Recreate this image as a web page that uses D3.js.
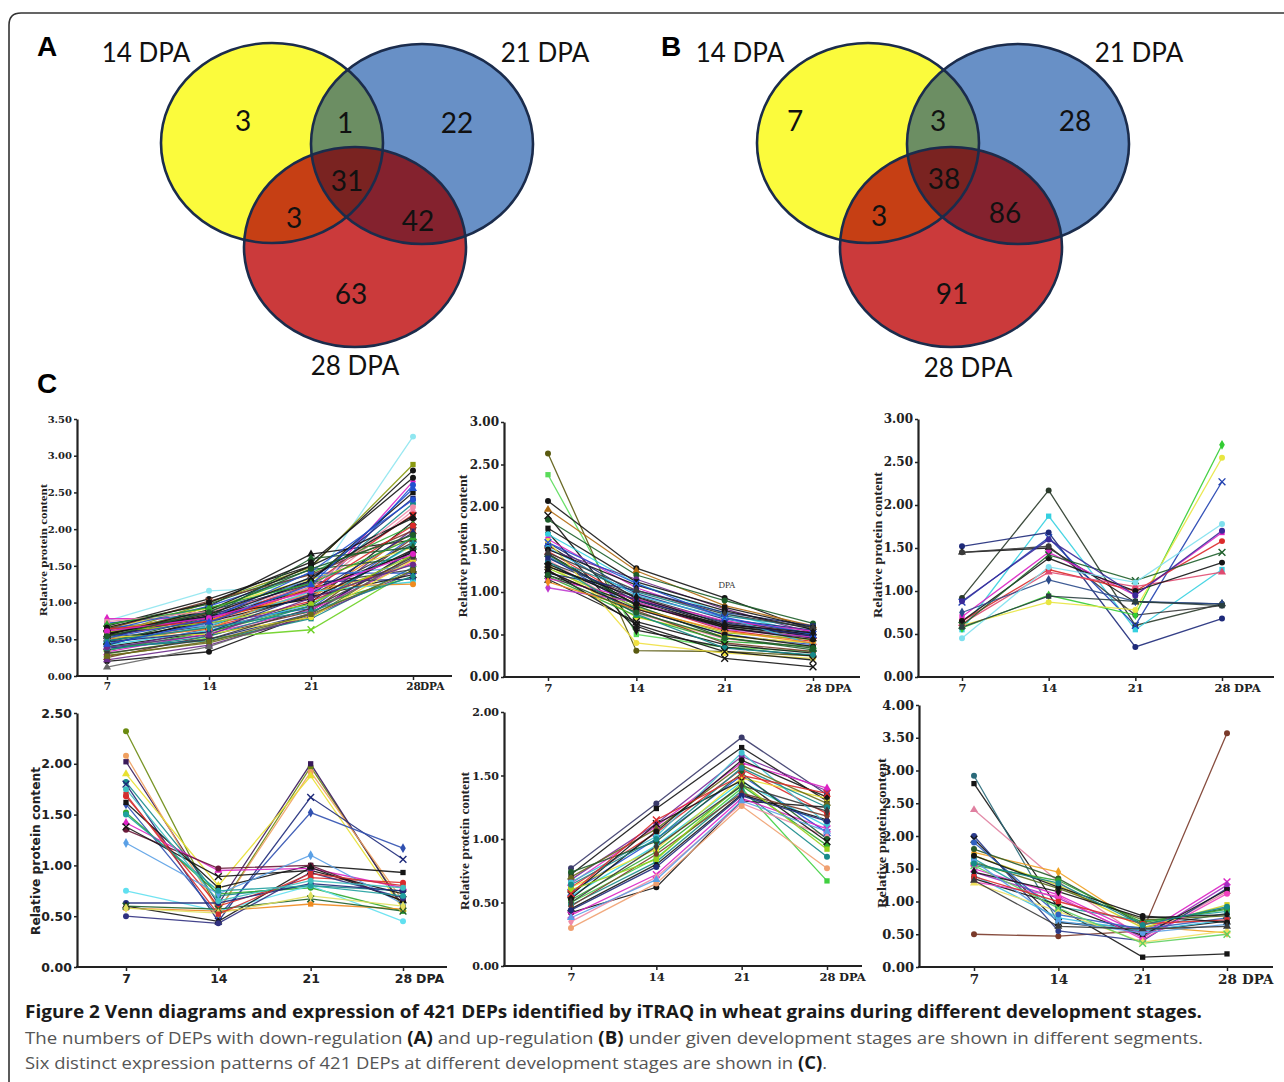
<!DOCTYPE html>
<html>
<head>
<meta charset="utf-8">
<script src="https://cdn.jsdelivr.net/npm/d3@7"></script>
<style>
  body { margin: 0; background: #fff; }
  svg { display: block; }
</style>
</head>
<body>
<div id="chart"></div>
<script>
// ---------- data ----------
var vennSets = ["14 DPA", "21 DPA", "28 DPA"]
// region order: only 14, 14&21, only 21, all three, 14&28, 21&28, only 28
var vennDown = [3, 1, 22, 31, 3, 42, 63]
var vennUp = [7, 3, 28, 38, 3, 86, 91]

var days = [7, 14, 21, 28]

// relative protein content at 7, 14, 21, 28 DPA (one row per protein)
var p1Values = [
  [0.75, 1.16, 1.22, 3.26], [0.55, 1.00, 1.48, 2.88], [0.20, 0.33, 0.85, 1.72], [0.50, 0.95, 1.66, 1.85],
  [0.68, 1.05, 1.50, 2.80], [0.30, 0.52, 0.63, 1.45], [0.78, 0.78, 1.10, 2.65], [0.72, 0.85, 1.05, 2.60],
  [0.60, 0.88, 1.30, 2.42], [0.65, 0.80, 1.20, 2.35], [0.45, 0.70, 1.15, 2.25], [0.55, 0.75, 1.25, 2.20],
  [0.40, 0.60, 1.00, 2.10], [0.58, 0.90, 1.40, 2.05], [0.35, 0.65, 0.95, 2.00], [0.62, 0.85, 1.06, 1.95],
  [0.48, 0.72, 0.92, 1.90], [0.25, 0.55, 0.88, 1.88], [0.52, 0.68, 1.10, 1.82], [0.42, 0.62, 0.98, 1.78],
  [0.66, 0.92, 1.32, 1.75], [0.38, 0.50, 0.85, 1.70], [0.55, 0.80, 1.18, 1.68], [0.28, 0.45, 0.80, 1.65],
  [0.70, 0.98, 1.45, 1.62], [0.45, 0.66, 1.02, 1.58], [0.33, 0.58, 0.90, 1.55], [0.60, 0.76, 1.12, 1.52],
  [0.50, 0.70, 1.35, 1.50], [0.40, 0.48, 0.78, 1.48], [0.58, 0.86, 1.25, 1.45], [0.22, 0.42, 0.82, 1.42],
  [0.62, 0.95, 1.40, 1.40], [0.47, 0.74, 1.08, 1.38], [0.35, 0.60, 0.95, 1.35], [0.53, 0.82, 1.28, 1.32],
  [0.44, 0.68, 1.15, 1.28], [0.50, 0.64, 1.22, 1.25], [0.12, 0.40, 0.86, 1.60], [0.56, 0.90, 1.50, 2.15],
  [0.64, 1.02, 1.38, 1.98], [0.36, 0.54, 0.96, 1.80], [0.74, 0.88, 1.20, 2.30], [0.42, 0.78, 1.30, 2.50],
  [0.60, 0.72, 0.98, 1.65], [0.46, 0.80, 1.60, 1.75], [0.53, 0.57, 0.80, 1.58], [0.58, 0.82, 1.05, 1.72],
  [0.46, 0.60, 1.12, 1.95], [0.64, 0.74, 1.18, 2.05], [0.31, 0.50, 0.92, 1.62], [0.52, 0.77, 1.42, 2.40],
  [0.70, 0.93, 1.26, 1.88], [0.39, 0.56, 1.06, 1.52], [0.57, 0.84, 1.34, 2.18], [0.48, 0.66, 0.88, 1.36],
  [0.66, 1.00, 1.55, 2.70], [0.27, 0.47, 0.84, 1.44], [0.61, 0.79, 1.16, 1.66], [0.43, 0.73, 1.24, 2.55],
  [0.54, 0.87, 1.46, 1.92]
]
var p2Values = [
  [2.63, 0.31, 0.30, 0.25], [2.38, 0.50, 0.35, 0.30], [2.07, 1.28, 0.93, 0.55], [1.97, 1.25, 0.84, 0.60],
  [1.85, 1.20, 0.90, 0.63], [1.90, 0.60, 0.22, 0.12], [1.70, 0.55, 0.35, 0.25], [1.68, 1.10, 0.75, 0.50],
  [1.62, 1.05, 0.70, 0.45], [1.58, 0.98, 0.68, 0.55], [1.55, 0.92, 0.60, 0.48], [1.50, 1.15, 0.80, 0.52],
  [1.48, 0.88, 0.55, 0.42], [1.45, 0.85, 0.62, 0.50], [1.42, 0.80, 0.50, 0.38], [1.40, 1.00, 0.72, 0.58],
  [1.38, 0.75, 0.45, 0.35], [1.35, 0.95, 0.65, 0.52], [1.32, 0.70, 0.48, 0.40], [1.30, 0.90, 0.58, 0.46],
  [1.28, 0.82, 0.52, 0.44], [1.25, 0.78, 0.40, 0.30], [1.22, 1.02, 0.76, 0.60], [1.20, 0.86, 0.60, 0.50],
  [1.18, 0.72, 0.42, 0.36], [1.16, 0.92, 0.66, 0.54], [1.15, 0.65, 0.38, 0.28], [1.05, 0.88, 0.56, 0.47],
  [1.60, 0.40, 0.28, 0.22], [1.75, 1.12, 0.82, 0.58], [1.52, 0.96, 0.70, 0.38], [1.44, 0.84, 0.46, 0.32],
  [1.36, 0.74, 0.34, 0.26], [1.26, 0.62, 0.30, 0.20], [1.12, 0.80, 0.54, 0.40], [1.50, 1.08, 0.78, 0.56],
  [1.40, 0.90, 0.64, 0.48], [1.33, 0.86, 0.58, 0.44], [1.46, 1.02, 0.74, 0.58], [1.24, 0.80, 0.50, 0.36],
  [1.58, 1.10, 0.70, 0.50], [1.30, 0.94, 0.62, 0.52], [1.20, 0.76, 0.46, 0.34]
]
var p3Values = [
  [0.92, 2.17, 0.60, 0.85], [0.55, 1.87, 0.55, 1.25], [1.52, 1.68, 0.35, 0.68], [1.45, 1.50, 0.87, 0.85],
  [1.45, 1.52, 0.72, 0.83], [0.87, 1.62, 0.60, 2.27], [0.57, 0.95, 0.72, 2.70], [0.60, 0.87, 0.78, 2.55],
  [0.70, 1.45, 0.95, 1.68], [0.65, 1.25, 1.00, 1.58], [0.62, 1.22, 1.05, 1.22], [0.65, 1.38, 1.00, 1.33],
  [0.60, 1.42, 1.12, 1.45], [0.75, 1.13, 0.88, 0.85], [0.45, 1.28, 1.10, 1.78], [0.58, 0.94, 0.88, 0.83],
  [0.88, 1.60, 0.95, 1.70]
]
var p4Values = [
  [2.32, 0.55, 1.97, 0.60], [2.02, 0.62, 2.00, 0.58], [2.08, 0.55, 1.92, 0.65], [1.90, 0.80, 1.88, 0.57],
  [1.82, 0.70, 0.80, 0.75], [1.80, 0.45, 1.67, 1.06], [1.60, 0.50, 1.52, 1.17], [1.68, 0.60, 0.88, 0.83],
  [1.62, 0.78, 1.00, 0.93], [1.52, 0.72, 0.78, 0.55], [1.42, 0.95, 0.97, 0.78], [1.35, 0.97, 1.00, 0.65],
  [1.38, 0.89, 0.95, 0.72], [1.22, 0.72, 1.10, 0.62], [0.75, 0.55, 0.80, 0.45], [0.58, 0.55, 0.62, 0.57],
  [0.63, 0.63, 0.82, 0.75], [0.60, 0.45, 0.98, 0.65], [0.50, 0.43, 0.93, 0.68], [0.60, 0.57, 0.67, 0.55],
  [0.58, 0.53, 0.70, 0.60], [1.50, 0.75, 0.80, 0.70], [1.70, 0.52, 0.92, 0.80], [1.75, 0.65, 0.85, 0.78]
]
var p5Values = [
  [0.77, 1.28, 1.80, 1.35], [0.72, 1.24, 1.72, 1.30], [0.68, 1.12, 1.65, 1.38], [0.65, 1.10, 1.60, 1.40],
  [0.62, 1.05, 1.55, 1.20], [0.58, 1.00, 1.50, 1.05], [0.55, 0.95, 1.45, 1.10], [0.52, 0.90, 1.42, 0.95],
  [0.50, 0.85, 1.40, 0.67], [0.48, 0.82, 1.38, 0.86], [0.45, 0.80, 1.35, 1.15], [0.42, 0.62, 1.30, 1.25],
  [0.40, 0.72, 1.32, 1.08], [0.35, 0.70, 1.28, 1.02], [0.30, 0.65, 1.26, 0.77], [0.62, 0.92, 1.48, 1.32],
  [0.66, 1.02, 1.68, 1.12], [0.70, 1.08, 1.58, 1.28], [0.74, 0.98, 1.52, 1.00], [0.56, 1.12, 1.46, 0.98],
  [0.47, 0.88, 1.36, 1.18], [0.53, 1.06, 1.62, 1.33], [0.60, 0.84, 1.44, 0.92], [0.44, 0.78, 1.34, 1.14],
  [0.38, 0.68, 1.30, 1.06], [0.64, 1.00, 1.56, 1.25], [0.57, 1.15, 1.50, 1.36], [0.50, 0.94, 1.42, 1.22]
]
var p6Values = [
  [0.50, 0.47, 0.55, 3.57], [2.80, 0.90, 0.15, 0.20], [2.92, 0.68, 0.60, 0.82], [2.40, 1.30, 0.45, 1.15],
  [2.00, 0.55, 0.40, 1.20], [1.95, 0.68, 0.55, 0.70], [1.75, 1.45, 0.62, 0.52], [1.80, 1.35, 0.65, 0.90],
  [1.70, 1.25, 0.60, 0.95], [1.65, 0.92, 0.70, 0.85], [1.60, 1.20, 0.72, 0.78], [1.55, 1.32, 0.68, 0.88],
  [1.50, 1.10, 0.50, 1.30], [1.45, 1.05, 0.45, 1.25], [1.40, 0.75, 0.55, 0.72], [1.35, 0.95, 0.48, 1.18],
  [1.30, 1.08, 0.42, 1.12], [1.28, 0.85, 0.38, 0.55], [1.90, 0.80, 0.58, 0.75], [1.55, 0.90, 0.36, 0.50],
  [1.45, 1.15, 0.75, 0.80], [1.62, 0.70, 0.52, 0.65], [1.38, 1.00, 0.66, 0.72], [1.70, 1.22, 0.78, 0.68],
  [1.32, 0.62, 0.58, 0.62], [1.58, 1.28, 0.64, 0.92]
]

// ---------- styles ----------
var K = '#151515', DK = '#3a3a3a', NV = '#1e2a7a', BL = '#2250d0', CY = '#35d0e0', TL = '#168a8a',
  GR = '#2fa82f', LM = '#98d01c', YL = '#e8e030', OL = '#6a6a1a', MG = '#dc22c4', RD = '#dc2a2a',
  OR = '#f08a1e', BR = '#7a3b2a', PU = '#6a2a8a', PK = '#f08aa8', LB = '#5aa0e6', DG = '#1d5e2a'

var p1Colors = ['#8fe6f0', '#8a9a10', K, K, K, '#6ad020', MG, BL, NV, TL, PK, RD, K, GR, PU, OR,
  BL, BR, DK, CY, YL, NV, K, OL, DG, RD, MG, OR, LB, TL, DK, PU, BL, K, GR, NV, CY, OR, '#666',
  K, BR, TL, PK, K, LM, DG, YL, K, NV, RD, DK, BL, GR, PU, K, TL, K, OL, MG, BL, DG]
var p2Colors = ['#5a5a10', '#5adc5a', K, '#b06a10', DG, K, K, CY, MG, NV, K, PU, RD, K, BL, TL, PK,
  DK, YL, K, LM, BR, NV, K, GR, MG, K, '#c03ad0', '#f0e040', K, '#3ab0e0', DG, TL, K, OR,
  K, NV, K, DK, K, BL, K, DG]
var p3Colors = ['#2a3a2a', CY, NV, K, DK, '#2040b0', '#33cc33', '#e8e640', MG, RD, '#e04a70', K, DG,
  '#2a4a8a', '#7fe0ee', '#2a4040', '#3a2a9a']
var p4Colors = ['#6a8a10', '#3a1a5a', '#f0a060', YL, TL, NV, '#3050b0', RD, K, GR, MG, '#6a1a3a', K,
  LB, '#60e0f0', OR, NV, K, '#303080', DG, '#e0e060', '#20a0a0', '#d03030', '#40c0c0']
var p5Colors = ['#3a3a6a', K, '#7a2a9a', MG, RD, BL, CY, GR, '#40d040', TL, K, K, MG, PK, '#f0a070',
  YL, '#40c0d0', OL, DG, K, BR, K, LM, NV, LB, TL, RD, DK]
var p6Colors = ['#7a3a2a', K, '#2a6a7a', '#e080a0', '#2a3a8a', K, '#f0a020', '#2a5a2a', '#d0d020',
  '#20a0a0', '#5a6a1a', '#30a030', MG, '#a030c0', '#40c0e0', K, '#f040c0', '#f0e060', '#3060c0',
  '#60d060', K, LB, RD, K, DK, TL]

var markShapes = [d3.symbolCircle, d3.symbolSquare, d3.symbolCircle, d3.symbolTriangle, d3.symbolCircle,
  d3.symbolX, d3.symbolDiamond]

var serif = "'DejaVu Serif', 'Liberation Serif', serif"
var sans = "'DejaVu Sans', 'Liberation Sans', sans-serif"

// panel layout (pixel frame of each small chart)
var panels = [
  { values: p1Values, colors: p1Colors, ax: 77, axEnd: 452, x7: 107, x28: 413, y0: 676, yTop: 419, yMax: 3.5,
    font: serif, yt: 10, xt: 10.5, labX: 43, labY: 550, labLen: 132, labSize: 11, dpaDx: 7 },
  { values: p2Values, colors: p2Colors, ax: 504, axEnd: 860, x7: 548, x28: 813, y0: 677, yTop: 422, yMax: 3,
    font: serif, yt: 12, xt: 11.5, labX: 463, labY: 546, labLen: 143, labSize: 12, dpaDx: 12 },
  { values: p3Values, colors: p3Colors, ax: 918, axEnd: 1274, x7: 962, x28: 1222, y0: 677, yTop: 419, yMax: 3,
    font: serif, yt: 12, xt: 11.5, labX: 878, labY: 545, labLen: 146, labSize: 12, dpaDx: 12 },
  { values: p4Values, colors: p4Colors, ax: 77, axEnd: 447, x7: 126, x28: 403, y0: 967, yTop: 713, yMax: 2.5,
    font: sans, yt: 12.5, xt: 12.5, labX: 35, labY: 851, labLen: 168, labSize: 13, dpaDx: 13 },
  { values: p5Values, colors: p5Colors, ax: 504, axEnd: 862, x7: 571, x28: 827, y0: 966, yTop: 712, yMax: 2,
    font: serif, yt: 11, xt: 11.5, labX: 465, labY: 841, labLen: 138, labSize: 12, dpaDx: 12 },
  { values: p6Values, colors: p6Colors, ax: 919, axEnd: 1273, x7: 974, x28: 1227, y0: 967, yTop: 705, yMax: 4,
    font: serif, yt: 13, xt: 13.5, labX: 882, labY: 833, labLen: 150, labSize: 12, dpaDx: 15 }
]

var width = 1284, height = 1082

var svg = d3.select('#chart').append('svg')
  .attr('width', width)
  .attr('height', height)

svg.append('rect').attr('width', width).attr('height', height).attr('fill', '#fff')

// outer frame (rounded top-left corner, open at right and bottom)
svg.append('path')
  .attr('d', 'M9,' + height + ' L9,25 Q9,13 21,13 L' + width + ',13')
  .attr('fill', 'none')
  .attr('stroke', '#333')
  .attr('stroke-width', 1.6)

// ---------- Venn diagrams ----------
var rx = 111, ry = 100
var vennOffsets = [[0, 0], [150, 1], [83, 104]]
var vennFill = { y: '#fbfb3c', b: '#6890c6', r: '#cb3a3b', yb: '#6c8e63', yr: '#c63f14', br: '#84222e', ybr: '#7a2321' }

function drawVenn(id, ox, oy, counts, numPos, setPos, letter, letterPos) {
  var defs = svg.append('defs')
  vennOffsets.forEach(function(o, i) {
    defs.append('clipPath').attr('id', id + 'c' + i)
      .append('ellipse').attr('cx', o[0]).attr('cy', o[1]).attr('rx', rx).attr('ry', ry)
  })
  var g = svg.append('g').attr('transform', `translate(${ox},${oy})`)

  function ell(sel, i, fill) {
    return sel.append('ellipse')
      .attr('cx', vennOffsets[i][0]).attr('cy', vennOffsets[i][1])
      .attr('rx', rx).attr('ry', ry)
      .attr('fill', fill)
  }
  ell(g, 0, vennFill.y)
  ell(g, 1, vennFill.b)
  ell(g, 2, vennFill.r)
  ell(g.append('g').attr('clip-path', `url(#${id}c0)`), 1, vennFill.yb)
  ell(g.append('g').attr('clip-path', `url(#${id}c0)`), 2, vennFill.yr)
  ell(g.append('g').attr('clip-path', `url(#${id}c1)`), 2, vennFill.br)
  ell(g.append('g').attr('clip-path', `url(#${id}c0)`).append('g').attr('clip-path', `url(#${id}c1)`), 2, vennFill.ybr)
  vennOffsets.forEach(function(o, i) {
    ell(g, i, 'none').attr('stroke', '#1b2c4c').attr('stroke-width', 2.6)
  })

  g.selectAll('.num').data(counts).enter().append('text')
    .attr('x', (d, i) => numPos[i][0])
    .attr('y', (d, i) => numPos[i][1])
    .attr('text-anchor', 'middle')
    .attr('dominant-baseline', 'central')
    .style('font-family', 'Lato, sans-serif')
    .style('font-size', '28px')
    .attr('fill', '#111')
    .text(d => d)

  g.selectAll('.set').data(vennSets).enter().append('text')
    .attr('x', (d, i) => setPos[i][0])
    .attr('y', (d, i) => setPos[i][1])
    .attr('text-anchor', 'middle')
    .attr('dominant-baseline', 'central')
    .style('font-family', 'Lato, sans-serif')
    .style('font-size', '26px')
    .attr('fill', '#111')
    .text(d => d)

  svg.append('text')
    .attr('x', letterPos[0]).attr('y', letterPos[1])
    .attr('text-anchor', 'middle')
    .attr('dominant-baseline', 'central')
    .style('font-family', "'Liberation Sans', Arial, sans-serif")
    .style('font-weight', 'bold')
    .style('font-size', '28px')
    .text(letter)
}

drawVenn('vA', 272, 143, vennDown,
  [[-29, -23], [73, -21], [185, -21], [75, 37], [22, 74], [146, 77], [79, 150]],
  [[-126, -91], [273, -91], [83, 222]], 'A', [47, 46])
drawVenn('vB', 868, 143, vennUp,
  [[-73, -23], [70, -23], [207, -23], [76, 35], [11, 72], [137, 69], [84, 150]],
  [[-128, -91], [271, -91], [100, 224]], 'B', [671, 46])

svg.append('text')
  .attr('x', 47).attr('y', 383)
  .attr('text-anchor', 'middle')
  .attr('dominant-baseline', 'central')
  .style('font-family', "'Liberation Sans', Arial, sans-serif")
  .style('font-weight', 'bold')
  .style('font-size', '28px')
  .text('C')

// ---------- expression panels ----------
function drawPanel(p) {
  var x = d3.scaleLinear().domain([days[0], days[3]]).range([p.x7, p.x28])
  var y = d3.scaleLinear().domain([0, p.yMax]).range([p.y0, p.yTop])
  var g = svg.append('g')

  var line = d3.line()
    .x((d, i) => x(days[i]))
    .y(d => y(d))

  g.selectAll('.ln').data(p.values).enter().append('path')
    .attr('d', line)
    .attr('fill', 'none')
    .attr('stroke', (d, i) => p.colors[i % p.colors.length])
    .attr('stroke-width', 1.3)
    .attr('opacity', 0.9)

  p.values.forEach(function(v, i) {
    var shape = markShapes[i % markShapes.length]
    var c = p.colors[i % p.colors.length]
    var isX = shape === d3.symbolX
    g.selectAll(null).data(v).enter().append('path')
      .attr('transform', (d, j) => `translate(${x(days[j])},${y(d)})`)
      .attr('d', d3.symbol().type(shape).size(isX ? 32 : 28))
      .attr('fill', isX ? 'none' : c)
      .attr('stroke', isX ? c : 'none')
      .attr('stroke-width', 1.4)
  })

  // y axis
  var yAxis = d3.axisLeft(y)
    .tickValues(d3.range(0, p.yMax + 0.01, 0.5))
    .tickFormat(d3.format('.2f'))
    .tickSize(3)
    .tickSizeOuter(0)
    .tickPadding(2)
  var ya = g.append('g')
    .attr('transform', `translate(${p.ax},0)`)
    .call(yAxis)
  ya.select('.domain').attr('stroke', '#222').attr('stroke-width', 2.2)
  ya.selectAll('.tick line').attr('stroke', '#222').attr('stroke-width', 1.5)
  ya.selectAll('text')
    .style('font-family', p.font)
    .style('font-weight', 'bold')
    .style('font-size', p.yt + 'px')
    .attr('fill', '#222')

  // x axis
  var xAxis = d3.axisBottom(x)
    .tickValues(days)
    .tickFormat(d => d)
    .tickSize(4)
    .tickPadding(3)
  var xa = g.append('g')
    .attr('transform', `translate(0,${p.y0})`)
    .call(xAxis)
  xa.select('.domain').remove()
  xa.selectAll('.tick line').attr('stroke', '#222').attr('stroke-width', 1.5)
  xa.selectAll('text')
    .style('font-family', p.font)
    .style('font-weight', 'bold')
    .style('font-size', p.xt + 'px')
    .attr('fill', '#222')
  xa.append('line')
    .attr('x1', p.ax - 1).attr('x2', p.axEnd)
    .attr('stroke', '#222').attr('stroke-width', 2.2)
  xa.append('text')
    .attr('x', x(days[3]) + p.dpaDx)
    .attr('y', 7)
    .attr('dy', '0.71em')
    .attr('text-anchor', 'start')
    .style('font-family', p.font)
    .style('font-weight', 'bold')
    .style('font-size', p.xt + 'px')
    .attr('fill', '#222')
    .text('DPA')

  // y label
  g.append('text')
    .attr('transform', `translate(${p.labX},${p.labY}) rotate(-90)`)
    .attr('text-anchor', 'middle')
    .attr('dominant-baseline', 'central')
    .attr('textLength', p.labLen)
    .attr('lengthAdjust', 'spacingAndGlyphs')
    .style('font-family', p.font === sans ? sans : "'Liberation Serif', serif")
    .style('font-weight', 'bold')
    .style('font-size', p.labSize + 'px')
    .attr('fill', '#222')
    .text('Relative protein content')
}

panels.forEach(drawPanel)

// stray "DPA" mark inside the second panel
svg.append('text')
  .attr('x', 727).attr('y', 585)
  .attr('text-anchor', 'middle')
  .attr('dominant-baseline', 'central')
  .style('font-family', "'Liberation Serif', serif")
  .style('font-size', '9px')
  .attr('fill', '#333')
  .text('DPA')

// ---------- caption ----------
var cap = svg.append('g').style('font-family', "'Open Sans', 'Noto Sans', sans-serif")
cap.append('text')
  .attr('x', 25).attr('y', 1018)
  .attr('textLength', 1177)
  .attr('lengthAdjust', 'spacingAndGlyphs')
  .style('font-size', '17px')
  .style('font-weight', 'bold')
  .attr('fill', '#1a1a1a')
  .text('Figure 2 Venn diagrams and expression of 421 DEPs identified by iTRAQ in wheat grains during different development stages.')

var line2 = cap.append('text')
  .attr('x', 25).attr('y', 1044)
  .attr('textLength', 1178)
  .attr('lengthAdjust', 'spacingAndGlyphs')
  .style('font-size', '17px')
  .attr('fill', '#555')
line2.append('tspan').text('The numbers of DEPs with down-regulation ')
line2.append('tspan').style('font-weight', 'bold').attr('fill', '#1a1a1a').text('(A)')
line2.append('tspan').text(' and up-regulation ')
line2.append('tspan').style('font-weight', 'bold').attr('fill', '#1a1a1a').text('(B)')
line2.append('tspan').text(' under given development stages are shown in different segments.')

var line3 = cap.append('text')
  .attr('x', 25).attr('y', 1069)
  .attr('textLength', 802)
  .attr('lengthAdjust', 'spacingAndGlyphs')
  .style('font-size', '17px')
  .attr('fill', '#555')
line3.append('tspan').text('Six distinct expression patterns of 421 DEPs at different development stages are shown in ')
line3.append('tspan').style('font-weight', 'bold').attr('fill', '#1a1a1a').text('(C)')
line3.append('tspan').text('.')
</script>
</body>
</html>
